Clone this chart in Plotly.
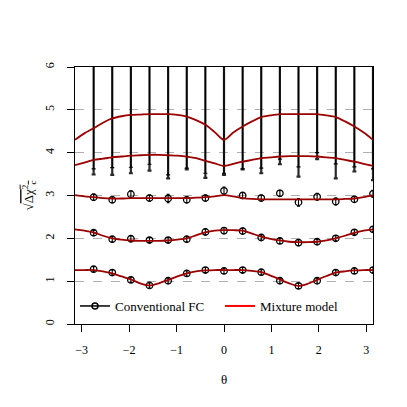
import numpy as np
import plotly.graph_objects as go

# theta grid of the Conventional FC points (-7pi/8 ... pi)
theta_pts = [-7*np.pi/8, -3*np.pi/4, -5*np.pi/8, -np.pi/2, -3*np.pi/8, -np.pi/4, -np.pi/8, 0.0,
             np.pi/8, np.pi/4, 3*np.pi/8, np.pi/2, 5*np.pi/8, 3*np.pi/4, 7*np.pi/8, np.pi]

# conventional FC, lower three series (value and error)
fc1 = [1.28, 1.20, 1.03, 0.90, 1.01, 1.18, 1.26, 1.24, 1.26, 1.21, 1.01, 0.89, 1.01, 1.20, 1.24, 1.26]
fc1_err = [0.06, 0.06, 0.06, 0.06, 0.06, 0.06, 0.06, 0.06, 0.06, 0.06, 0.06, 0.06, 0.06, 0.06, 0.06, 0.06]
fc2 = [2.13, 1.98, 1.99, 1.96, 1.96, 1.98, 2.15, 2.18, 2.17, 2.02, 1.94, 1.90, 1.92, 2.00, 2.14, 2.21]
fc2_err = [0.06, 0.06, 0.07, 0.06, 0.06, 0.06, 0.07, 0.07, 0.07, 0.06, 0.06, 0.07, 0.06, 0.06, 0.06, 0.06]
fc3 = [2.96, 2.90, 3.03, 2.94, 2.93, 2.90, 2.94, 3.11, 3.00, 2.94, 3.05, 2.84, 2.97, 2.86, 2.91, 3.04]
fc3_err = [0.07, 0.07, 0.08, 0.07, 0.10, 0.07, 0.07, 0.09, 0.07, 0.07, 0.07, 0.09, 0.08, 0.08, 0.07, 0.08]

# conventional FC, upper two series lie above the plotted range; only lower ends of bars visible
fc4 = [8.5] * 16
fc4_low = [3.62, 3.65, 3.66, 3.73, 3.48, 3.64, 3.52, 3.52, 3.62, 3.64, 3.85, 3.67, 4.00, 3.74, 3.67, 3.62]
fc5 = [9.0] * 16
fc5_low = [3.49, 3.48, 3.52, 3.58, 3.40, 3.61, 3.41, 3.48, 3.61, 3.52, 3.73, 3.44, 3.85, 3.40, 3.56, 3.36]

# mixture model curves, sampled every pi/16 from -pi to pi
theta_curve = [-np.pi + j*np.pi/16 for j in range(33)]
mm1 = [1.26, 1.26, 1.26, 1.23, 1.18, 1.11, 1.04, 0.95, 0.90, 0.95, 1.03, 1.11, 1.18, 1.23, 1.25, 1.26, 1.26,
       1.26, 1.26, 1.24, 1.21, 1.13, 1.04, 0.95, 0.89, 0.94, 1.03, 1.12, 1.20, 1.23, 1.25, 1.26, 1.26]
mm2 = [2.21, 2.18, 2.14, 2.06, 2.00, 1.97, 1.95, 1.94, 1.94, 1.94, 1.95, 1.97, 2.00, 2.07, 2.14, 2.18, 2.19,
       2.19, 2.18, 2.11, 2.04, 1.99, 1.95, 1.92, 1.91, 1.91, 1.92, 1.95, 2.00, 2.06, 2.13, 2.18, 2.21]
mm3 = [3.01, 2.98, 2.96, 2.94, 2.93, 2.93, 2.94, 2.94, 2.94, 2.94, 2.94, 2.94, 2.94, 2.95, 2.96, 2.98, 3.01,
       2.98, 2.94, 2.92, 2.91, 2.91, 2.91, 2.91, 2.91, 2.91, 2.91, 2.91, 2.91, 2.92, 2.93, 2.96, 3.01]
mm4 = [3.71, 3.77, 3.83, 3.86, 3.89, 3.91, 3.93, 3.94, 3.95, 3.95, 3.94, 3.93, 3.91, 3.87, 3.81, 3.75, 3.69,
       3.74, 3.79, 3.83, 3.87, 3.89, 3.91, 3.92, 3.92, 3.92, 3.91, 3.89, 3.87, 3.83, 3.79, 3.74, 3.69]
mm5 = [4.30, 4.45, 4.57, 4.70, 4.80, 4.85, 4.88, 4.89, 4.90, 4.90, 4.90, 4.88, 4.84, 4.76, 4.65, 4.48, 4.30,
       4.47, 4.61, 4.73, 4.83, 4.87, 4.90, 4.90, 4.90, 4.90, 4.90, 4.87, 4.83, 4.73, 4.61, 4.47, 4.30]

font = dict(family="Liberation Serif", size=12, color="black")
fig = go.Figure()

# off-scale FC points: only the error bars reach into the panel
for vals, low, col, th in [(fc5, fc5_low, "#2a2a2a", 2.2), (fc4, fc4_low, "black", 1.2)]:
    fig.add_trace(go.Scatter(
        x=theta_pts, y=vals, mode="markers",
        marker=dict(symbol="circle-open", size=6, color="black"),
        error_y=dict(type="data", symmetric=False, array=[0.5] * len(vals),
                     arrayminus=[v - l for v, l in zip(vals, low)],
                     color=col, thickness=th, width=2),
        showlegend=False))

for vals, err in [(fc1, fc1_err), (fc2, fc2_err), (fc3, fc3_err)]:
    fig.add_trace(go.Scatter(
        x=theta_pts, y=vals, mode="markers",
        marker=dict(symbol="circle-open", size=6.5, color="black", line=dict(width=1.3)),
        error_y=dict(type="data", array=err, color="black", thickness=1.1, width=1.5),
        showlegend=False))

for curve in [mm1, mm2, mm3, mm4, mm5]:
    fig.add_trace(go.Scatter(
        x=theta_curve, y=curve, mode="lines",
        line=dict(color="#9a0000", width=1.8, shape="spline", smoothing=0.8),
        showlegend=False))

# legend entries
fig.add_trace(go.Scatter(x=[None], y=[None], mode="lines+markers", name="Conventional FC",
                         line=dict(color="black", width=1.5),
                         marker=dict(symbol="circle-open", size=6, color="black", line=dict(width=1.5))))
fig.add_trace(go.Scatter(x=[None], y=[None], mode="lines", name="Mixture model",
                         line=dict(color="red", width=2)))

# page body adds an 8px offset, so the figure is drawn 8px smaller
fig.update_layout(
    width=399, height=399,
    margin=dict(l=67, r=34, t=59, b=83, autoexpand=False),
    paper_bgcolor="white", plot_bgcolor="white",
    font=font,
    showlegend=True,
    legend=dict(orientation="h", x=0.0, y=0.07, xanchor="left", yanchor="middle",
                bgcolor="rgba(0,0,0,0)", font=dict(family="Liberation Serif", size=13),
                itemwidth=30, entrywidth=100, traceorder="normal"),
)
fig.update_xaxes(
    range=[-np.pi, np.pi], tickvals=[-3, -2, -1, 0, 1, 2, 3],
    showgrid=False, zeroline=False, automargin=False,
    showline=True, mirror=True, linecolor="black", linewidth=1,
    ticks="outside", ticklen=7, tickcolor="black", ticklabelstandoff=8,
    title=dict(text="θ", font=dict(family="Liberation Serif", size=13), standoff=18),
)
fig.update_yaxes(
    range=[0, 6], tickvals=[0, 1, 2, 3, 4, 5, 6], tickangle=-90,
    showgrid=True, gridcolor="#b0b0b0", griddash="dash", gridwidth=1,
    zeroline=False, automargin=False,
    showline=True, mirror=True, linecolor="black", linewidth=1,
    ticks="outside", ticklen=7, tickcolor="black", ticklabelstandoff=8,
    title=dict(text="√<span style='text-decoration:overline'>Δχ<sup>2</sup><sub>c</sub></span>",
               font=dict(family="Liberation Serif", size=13), standoff=6),
)

fig.write_html("out.html")
